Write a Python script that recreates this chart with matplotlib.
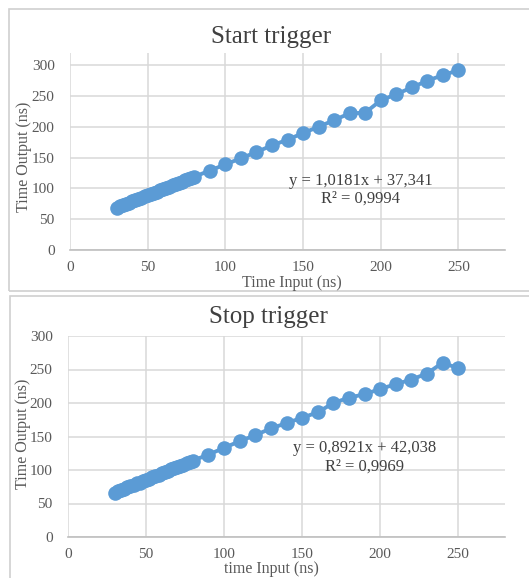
import matplotlib
matplotlib.use("Agg")
import matplotlib.pyplot as plt
from matplotlib.patches import Rectangle

# Input times (ns)
x_in = [30, 32, 34, 36, 38, 40, 42, 44, 46, 48, 50, 52, 54, 56, 58, 60,
        62, 64, 66, 68, 70, 72, 74, 76, 78, 80,
        90, 100, 110, 120, 130, 140, 150, 160, 170, 180, 190, 200,
        210, 220, 230, 240, 250]

# Start trigger output (ns)
start_out = [69, 71, 73, 75, 77, 79, 81, 83, 85, 87, 89, 91, 93, 95, 97, 99,
             101, 103, 105, 107, 109, 111, 113, 115, 117, 119,
             129, 139, 149, 159, 170, 179, 190, 200, 211, 222, 223, 243,
             253, 264, 275, 284, 292]

# Stop trigger output (ns)
stop_out = [66, 68, 70, 72, 74, 76, 78, 80, 81, 83, 85, 87, 89, 91, 93, 95,
            97, 99, 101, 103, 104, 106, 108, 110, 112, 114,
            123, 133, 143, 152, 162, 170, 178, 186, 200, 208, 213, 221,
            228, 235, 244, 260, 252]

titles = ["Start trigger", "Stop trigger"]
xlabels = ["Time Input (ns)", "time Input (ns)"]
ylabel = "Time Output (ns)"
fits = ["y = 1,0181x + 37,341\nR² = 0,9994",
        "y = 0,8921x + 42,038\nR² = 0,9969"]

W, H = 529, 578
BLUE = "#5b9bd5"
GRID = "#d9d9d9"
TXT = "#595959"
plt.rcParams["font.family"] = ["Liberation Serif", "DejaVu Serif"]

fig = plt.figure(figsize=(W / 100, H / 100), dpi=100)

# panel frames (pixel coords: x0, y0 top, x1, y1 bottom)
for x0, y0, x1, y1 in [(9, 9, 540, 291), (10, 296, 540, 590)]:
    fig.patches.append(Rectangle((x0 / W, 1 - y1 / H), (x1 - x0) / W, (y1 - y0) / H,
                                 transform=fig.transFigure, fill=False,
                                 edgecolor="#d0d0d0", lw=1.2))


def px_axes(left, top, right, bottom):
    return fig.add_axes([left / W, 1 - bottom / H, (right - left) / W, (bottom - top) / H])


panels = [
    dict(box=(70, 53, 505, 250), y=start_out, ymax=320, fitpos=(187, 98),
         title=(271, 37), xlabel=(292, 283), ylab=(24, 157)),
    dict(box=(68, 336, 505, 537), y=stop_out, ymax=300, fitpos=(190, 119),
         title=(268, 317), xlabel=(271, 569), ylab=(23, 434)),
]

for i, p in enumerate(panels):
    ax = px_axes(*p["box"])
    ax.plot(x_in, p["y"], color=BLUE, lw=2.8, marker="o", ms=10.5,
            markeredgewidth=0, zorder=3, clip_on=False)
    ax.set_xlim(0, 280)
    ax.set_ylim(0, p["ymax"])
    ax.set_xticks(range(0, 251, 50))
    ax.set_yticks(range(0, 301, 50))
    ax.grid(True, color=GRID, lw=1.1)
    ax.set_axisbelow(True)
    for s in ["top", "right", "left"]:
        ax.spines[s].set_visible(False)
    ax.spines["bottom"].set_color("#bfbfbf")
    ax.spines["bottom"].set_linewidth(1.2)
    ax.tick_params(axis="y", length=0, labelsize=11, colors=TXT, pad=11)
    ax.tick_params(axis="x", length=0, labelsize=11, colors=TXT, pad=8)
    ax.text(p["fitpos"][0], p["fitpos"][1], fits[i], ha="center", va="center",
            fontsize=12, color="#404040", linespacing=1.15)
    fig.text(p["title"][0] / W, 1 - p["title"][1] / H, titles[i], ha="center",
             va="center", fontsize=18, color="#404040")
    fig.text(p["xlabel"][0] / W, 1 - p["xlabel"][1] / H, xlabels[i], ha="center",
             va="center", fontsize=11.5, color=TXT)
    fig.text(p["ylab"][0] / W, 1 - p["ylab"][1] / H, ylabel, ha="center",
             va="center", rotation=90, fontsize=11.5, color=TXT)

fig.savefig("out.png", dpi=100, facecolor="white")
